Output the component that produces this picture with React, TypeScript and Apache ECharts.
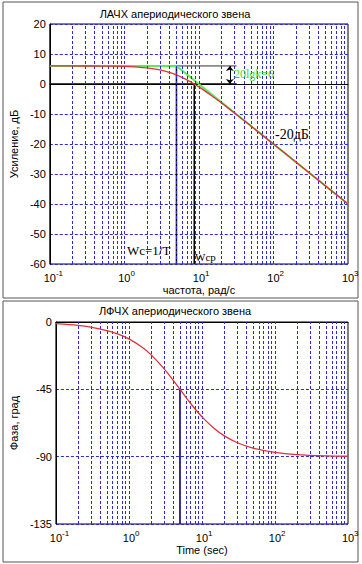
import React, { useEffect, useRef } from 'react';
import * as echarts from 'echarts';

// Magnitude (ЛАЧХ) – exact curve
const magFreq = [0.1, 0.3, 0.5, 1, 1.5, 2, 3, 4, 5, 6, 7, 8, 10, 12, 15, 20, 30, 50, 70, 100, 200, 500, 1000];
const magDb = [6.02, 6.0, 5.98, 5.85, 5.65, 5.38, 4.69, 3.87, 3.01, 2.15, 1.31, 0.51, -0.97, -2.28, -3.98, -6.28, -9.66, -14.02, -16.92, -20.01, -26.02, -33.98, -40.0];
// Asymptote (green)
const asymFreq = [0.1, 5, 1000];
const asymDb = [6.02, 6.02, -40.0];
// Phase (ЛФЧХ)
const phFreq = [0.1, 0.2, 0.3, 0.5, 0.7, 1, 1.5, 2, 3, 4, 5, 6, 7, 8, 10, 15, 20, 30, 50, 100, 200, 500, 1000];
const phDeg = [-1.15, -2.29, -3.43, -5.71, -7.97, -11.31, -16.7, -21.8, -30.96, -38.66, -45, -50.19, -54.46, -57.99, -63.43, -71.57, -75.96, -80.54, -84.29, -87.14, -88.57, -89.43, -89.71];

// Characteristic frequencies / levels
const wc = 5; // 1/T
const wcp = 8.66;
const gainDb = 6.02;
const bracketEnd = 32;
const arrowFreq = 26;

// Log grid
const decades = [0.1, 1, 10, 100];
const multiples = [1, 2, 3, 4, 5, 6, 7, 8, 9];

const magYTicks = { min: -60, max: 20, interval: 10 };
const phYTicks = { min: -135, max: 0, interval: 45 };

const BLUE = '#2b2bd0';
const RED = '#e0303c';
const GREEN = '#55ee55';

export default function App() {
  const ref = useRef<HTMLDivElement>(null);
  useEffect(() => {
    if (!ref.current) return;
    const chart = echarts.init(ref.current, null, { renderer: 'svg' });
    const gridFreqs: number[] = [];
    decades.forEach((d) => multiples.forEach((m) => { if (!(d === 0.1 && m === 1)) gridFreqs.push(+(d * m).toPrecision(3)); }));
    const zip = (xs: number[], ys: number[]) => xs.map((x, i) => [x, ys[i]]);
    const sans = 'Liberation Sans, Arial, sans-serif';
    const serif = 'Liberation Serif, Times New Roman, serif';

    const xAxisBase = (gridIndex: number, name: string, gap: number) => ({
      type: 'log', logBase: 10, gridIndex, min: 0.1, max: 1000, splitNumber: 4,
      name, nameLocation: 'middle', nameGap: gap,
      nameTextStyle: { fontFamily: sans, fontSize: 11, color: '#000' },
      axisLine: { show: true, lineStyle: { color: '#000', width: 1 } },
      axisTick: { show: false },
      splitLine: { show: false },
      axisLabel: {
        margin: 5,
        formatter: (v: number) => {
          const e = Math.round(Math.log10(v));
          return `{h|${e}}{b|10}{s|${e}}`;
        },
        rich: {
          b: { fontFamily: sans, fontSize: 11, color: '#000', lineHeight: 14, verticalAlign: 'bottom' },
          s: { fontFamily: sans, fontSize: 8, color: '#000', lineHeight: 14, verticalAlign: 'top' },
          h: { fontFamily: sans, fontSize: 8, color: 'rgba(0,0,0,0)', lineHeight: 14, verticalAlign: 'top' },
        },
      },
    });
    const yAxisBase = (gridIndex: number, name: string, t: any) => ({
      type: 'value', gridIndex, min: t.min, max: t.max, interval: t.interval,
      name, nameLocation: 'middle', nameGap: 29,
      nameTextStyle: { fontFamily: sans, fontSize: 11, color: '#000' },
      axisLine: { show: true, lineStyle: { color: '#000', width: 1 } },
      axisTick: { show: false },
      axisLabel: { fontFamily: sans, fontSize: 11, color: '#000', margin: 4 },
      splitLine: { show: true, lineStyle: { color: BLUE, type: [3, 2], width: 1 } },
    });
    const gridLines = (xi: number) => ({
      type: 'line', xAxisIndex: xi, yAxisIndex: xi, data: [], z: 1, silent: true,
      markLine: {
        silent: true, symbol: 'none', animation: false, label: { show: false },
        lineStyle: { color: BLUE, type: [3, 2], width: 1 },
        data: gridFreqs.map((f) => ({ xAxis: f })),
      },
    });
    const black = (xi: number, pts: number[][], width = 1.5, color = '#000') => ({
      type: 'line', xAxisIndex: xi, yAxisIndex: xi, data: pts, symbol: 'none', silent: true,
      lineStyle: { color, width }, z: 3,
    });

    chart.setOption({
      animation: false,
      backgroundColor: '#fff',
      grid: [
        { left: 43, top: 24, width: 305, height: 240, show: true, borderColor: '#000', borderWidth: 1, backgroundColor: 'transparent' },
        { left: 43, top: 322, width: 305, height: 202, show: true, borderColor: '#000', borderWidth: 1, backgroundColor: 'transparent' },
      ],
      xAxis: [xAxisBase(0, 'частота, рад/с', 20), xAxisBase(1, 'Time (sec)', 20)],
      yAxis: [yAxisBase(0, 'Усиление, дБ', magYTicks), yAxisBase(1, 'Фаза, град', phYTicks)],
      graphic: [
        { type: 'rect', shape: { x: 3, y: 2, width: 355, height: 296 }, style: { fill: 'none', stroke: '#555', lineWidth: 1 }, z: 0 },
        { type: 'rect', shape: { x: 3, y: 301, width: 355, height: 261 }, style: { fill: 'none', stroke: '#555', lineWidth: 1 }, z: 0 },
        { type: 'text', x: 175, y: 14, style: { text: 'ЛАЧХ апериодического звена', font: `11px ${sans}`, fill: '#000', textAlign: 'center', textVerticalAlign: 'middle' } },
        { type: 'text', x: 175, y: 311, style: { text: 'ЛФЧХ апериодического звена', font: `11px ${sans}`, fill: '#000', textAlign: 'center', textVerticalAlign: 'middle' } },
        { type: 'text', x: 234, y: 74, z: 10, style: { text: '20lgk=6', font: `12px ${serif}`, fill: '#33dd33', textAlign: 'left', textVerticalAlign: 'middle' } },
        { type: 'text', x: 275, y: 134, z: 10, style: { text: '-20дБ', font: `14px ${serif}`, fill: '#000', textAlign: 'left', textVerticalAlign: 'middle' } },
        { type: 'text', x: 127, y: 250, z: 10, style: { text: 'Wc=1/T', font: `13px ${serif}`, fill: '#000', textAlign: 'left', textVerticalAlign: 'middle' } },
        { type: 'text', x: 195, y: 257, z: 10, style: { text: 'Wcp', font: `11px ${serif}`, fill: '#000', textAlign: 'left', textVerticalAlign: 'middle' } },
      ],
      series: [
        gridLines(0),
        gridLines(1),
        black(0, [[0.1, 0], [bracketEnd, 0]], 1.5),
        black(0, [[wc, gainDb], [bracketEnd, gainDb]], 1, '#333'),
        black(0, [[wc, gainDb], [wc, magYTicks.min]], 1.5),
        black(0, [[wcp, 0], [wcp, magYTicks.min]], 1.5),
        {
          type: 'line', xAxisIndex: 0, yAxisIndex: 0, data: zip(asymFreq, asymDb), symbol: 'none',
          lineStyle: { color: GREEN, width: 2 }, z: 4,
          markLine: {
            silent: true, symbol: ['arrow', 'arrow'], symbolSize: [6, 5], label: { show: false },
            lineStyle: { color: '#000', width: 1, type: 'solid' },
            data: [[{ coord: [arrowFreq, gainDb] }, { coord: [arrowFreq, 0] }]],
          },
        },
        {
          type: 'line', xAxisIndex: 0, yAxisIndex: 0, data: zip(magFreq, magDb), symbol: 'none', smooth: 0.3,
          lineStyle: { color: RED, width: 1.3 }, z: 5,
        },
        black(1, [[wc, -45], [wc, phYTicks.min]], 1.5),
        {
          type: 'line', xAxisIndex: 1, yAxisIndex: 1, data: zip(phFreq, phDeg), symbol: 'none', smooth: 0.3,
          lineStyle: { color: RED, width: 1.3 }, z: 5,
        },
      ],
    });
    return () => chart.dispose();
  }, []);
  return <div ref={ref} style={{ position: 'absolute', left: 0, top: 0, width: 362, height: 564, background: '#fff' }} />;
}
